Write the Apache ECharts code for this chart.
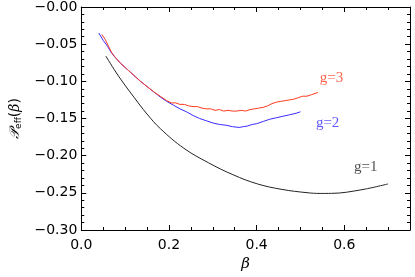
<!DOCTYPE html>
<html><head><meta charset="utf-8">
<script src="https://cdn.jsdelivr.net/npm/echarts@6/dist/echarts.min.js"></script>
<style>html,body{margin:0;padding:0;background:#fff}#c{width:415px;height:277px}</style>
</head><body><div id="c"></div>
<script>
var xTicks = [0.0, 0.2, 0.4, 0.6];
var yTicks = [-0.30, -0.25, -0.20, -0.15, -0.10, -0.05, 0.00];

var g1X = [0.056, 0.085, 0.121, 0.150, 0.181, 0.234, 0.290, 0.346, 0.402, 0.458, 0.515, 0.545, 0.571, 0.638, 0.700];
var g1Y = [-0.066, -0.093, -0.122, -0.144, -0.164, -0.190, -0.2095, -0.2256, -0.238, -0.2454, -0.2498, -0.2508, -0.2507, -0.246, -0.238];

var g2X = [0.040, 0.050, 0.060, 0.068, 0.076, 0.090, 0.105, 0.120, 0.135, 0.150, 0.165, 0.180, 0.195, 0.210, 0.225, 0.240, 0.255, 0.270, 0.285, 0.300, 0.315, 0.330, 0.345, 0.360, 0.370, 0.380, 0.390, 0.400, 0.415, 0.430, 0.445, 0.460, 0.475, 0.490, 0.500];
var g2Y = [-0.035, -0.045, -0.053, -0.061, -0.067, -0.076, -0.084, -0.092, -0.100, -0.107, -0.114, -0.121, -0.127, -0.132, -0.137, -0.141, -0.146, -0.150, -0.153, -0.156, -0.158, -0.159, -0.161, -0.162, -0.161, -0.160, -0.158, -0.157, -0.154, -0.151, -0.149, -0.147, -0.145, -0.143, -0.141];

var g3X = [0.047, 0.055, 0.063, 0.070, 0.078, 0.090, 0.105, 0.120, 0.135, 0.150, 0.165, 0.180, 0.195, 0.205, 0.215, 0.225, 0.235, 0.245, 0.255, 0.265, 0.275, 0.285, 0.295, 0.305, 0.315, 0.325, 0.335, 0.345, 0.355, 0.365, 0.375, 0.385, 0.395, 0.405, 0.415, 0.425, 0.435, 0.445, 0.455, 0.465, 0.475, 0.485, 0.495, 0.505, 0.515, 0.525, 0.540];
var g3Y = [-0.037, -0.044, -0.054, -0.062, -0.068, -0.076, -0.084, -0.092, -0.100, -0.107, -0.114, -0.120, -0.126, -0.129, -0.129, -0.131, -0.131, -0.133, -0.134, -0.134, -0.136, -0.137, -0.137, -0.139, -0.138, -0.140, -0.139, -0.140, -0.140, -0.139, -0.140, -0.138, -0.137, -0.136, -0.135, -0.133, -0.130, -0.128, -0.127, -0.126, -0.125, -0.124, -0.122, -0.120, -0.120, -0.118, -0.115];

var labelText = ['g=3', 'g=2', 'g=1'];
var labelX = [0.571, 0.562, 0.649];
var labelY = [-0.095, -0.156, -0.215];
var colors = ['#ff3a1e', '#3a2aff', '#222222'];

function zip(a, b) { return a.map(function (v, i) { return [v, b[i]]; }); }

var chart = echarts.init(document.getElementById('c'));
var tickFont = { fontFamily: 'DejaVu Sans', fontSize: 14, color: '#000' };
var lineStyleAxis = { color: '#000', width: 1 };

function xAx(pos, interval, len, labels, name) {
  return {
    type: 'value', position: pos, min: 0, max: 0.75, interval: interval,
    axisLine: { show: name !== undefined || pos === 'top', lineStyle: lineStyleAxis, onZero: false },
    axisTick: { show: true, inside: true, length: len, lineStyle: lineStyleAxis },
    axisLabel: labels ? Object.assign({ show: true, margin: 8, showMaxLabel: false, formatter: function (v) { return v.toFixed(1); } }, tickFont) : { show: false },
    splitLine: { show: false },
    name: name || '', nameLocation: 'middle', nameGap: 27,
    nameTextStyle: { fontFamily: 'DejaVu Serif', fontStyle: 'italic', fontSize: 15, color: '#000' }
  };
}
function yAx(pos, labels, name) {
  return {
    type: 'value', position: pos, min: -0.30, max: 0.0, interval: 0.05,
    axisLine: { show: true, lineStyle: lineStyleAxis, onZero: false },
    axisTick: { show: true, inside: true, length: 5, lineStyle: lineStyleAxis },
    minorTick: { show: true, splitNumber: 5, length: 3, lineStyle: lineStyleAxis },
    axisLabel: labels ? Object.assign({ show: true, margin: 4, formatter: function (v) { return '\u2212' + Math.abs(v).toFixed(2); } }, tickFont) : { show: false },
    splitLine: { show: false },
    name: name || '', nameLocation: 'middle', nameGap: 56, nameRotate: 90,
    nameTextStyle: {
      color: '#000', fontFamily: 'DejaVu Serif', fontSize: 14,
      rich: {
        a: { fontFamily: 'DejaVu Serif', fontSize: 14, fontStyle: 'italic', color: '#000' },
        s: { fontFamily: 'DejaVu Sans', fontSize: 9, color: '#000', padding: [8, 0, 0, 0] },
        b: { fontFamily: 'DejaVu Sans', fontSize: 14, color: '#000' }
      }
    }
  };
}

var option = {
  animation: false,
  grid: { left: 76, right: 5, top: 6, bottom: 44 },
  xAxis: [
    xAx('bottom', 0.2, 5, true, '\u03b2'),
    xAx('bottom', 0.05, 3, false),
    xAx('top', 0.2, 5, false),
    xAx('top', 0.05, 3, false)
  ],
  yAxis: [
    yAx('left', true, '{a|\ud835\udcab}{s|eff}{b|(}{a|\u03b2}{b|)}'),
    yAx('right', false)
  ],
  series: [
    { type: 'line', data: zip(g1X, g1Y), smooth: 0.4, showSymbol: false, lineStyle: { color: colors[2], width: 1 } },
    { type: 'line', data: zip(g2X, g2Y), showSymbol: false, lineStyle: { color: colors[1], width: 1 } },
    { type: 'line', data: zip(g3X, g3Y), showSymbol: false, lineStyle: { color: colors[0], width: 1 } },
    {
      type: 'scatter', symbolSize: 0, silent: true,
      data: labelText.map(function (t, i) {
        return { value: [labelX[i], labelY[i]], label: { show: true, position: 'inside', formatter: t, color: colors[i], fontFamily: 'Liberation Serif', fontSize: 15 } };
      })
    }
  ]
};
chart.setOption(option);
</script>
</body></html>
